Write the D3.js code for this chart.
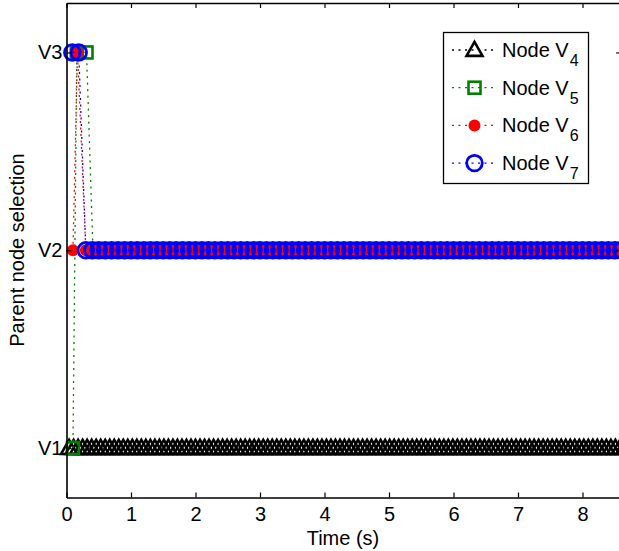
<!DOCTYPE html>
<html>
<head>
<meta charset="utf-8">
<script src="https://cdn.jsdelivr.net/npm/d3@7"></script>
<style>
  body { margin: 0; background: #fff; }
  svg { display: block; font-family: "Liberation Sans", Arial, sans-serif; }
</style>
</head>
<body>
<script>
// axis ticks and labels
const timeTicks = [0, 1, 2, 3, 4, 5, 6, 7, 8];
const levelTicks = [1, 2, 3];
const levelLabels = ["V1", "V2", "V3"];

// legend entries
const nodeNames = ["4", "5", "6", "7"];
const nodeColors = ["#000000", "#008000", "#ff0000", "#0000ff"];
const nodeMarkers = ["triangle", "square", "dot", "circle"];

// start-up samples [time (s), parent level]
const v4Transient = [];
const v5Transient = [[0.1, 1], [0.16, 3], [0.31, 3]];
const v6Transient = [[0.1, 2], [0.17, 3]];
const v7Transient = [[0.09, 3], [0.19, 3]];

// settled parent level after start-up: [first sample time, sample step, level]
const v4Settled = [0.04, 0.07, 1];
const v5Settled = [0.41, 0.1, 2];
const v6Settled = [0.3, 0.1, 2];
const v7Settled = [0.3, 0.1, 2];

const endTime = 8.7;

function buildSeries(transient, settled) {
    const pts = transient.map(d => ({t: d[0], v: d[1]}));
    d3.range(settled[0], endTime, settled[1]).forEach(t => pts.push({t: t, v: settled[2]}));
    return pts;
}

const series = [
    buildSeries(v4Transient, v4Settled),
    buildSeries(v5Transient, v5Settled),
    buildSeries(v6Transient, v6Settled),
    buildSeries(v7Transient, v7Settled)
];

const W = 619, H = 551;
const plotLeft = 66.5, plotTop = 3, plotRight = 621.2, plotBottom = 497.5;

const svg = d3.select("body").append("svg")
    .attr("width", W)
    .attr("height", H);

const x = d3.scaleLinear().domain([0, 8.6]).range([plotLeft, plotRight]);
const y = d3.scaleLinear().domain([0.75, 3.25]).range([plotBottom, plotTop]);

function drawMarker(g, type, color, cx, cy) {
    if (type === "triangle") {
        const w = 16, h = 14;
        g.append("path")
            .attr("d", `M${cx},${cy - h * 0.58}L${cx + w / 2},${cy + h * 0.42}L${cx - w / 2},${cy + h * 0.42}Z`)
            .attr("fill", "none").attr("stroke", color).attr("stroke-width", 2.6)
            .attr("stroke-linejoin", "miter");
    } else if (type === "square") {
        g.append("rect")
            .attr("x", cx - 6).attr("y", cy - 6)
            .attr("width", 12).attr("height", 12)
            .attr("fill", "none").attr("stroke", color).attr("stroke-width", 2.6);
    } else if (type === "dot") {
        g.append("circle").attr("cx", cx).attr("cy", cy).attr("r", 6).attr("fill", color);
    } else {
        g.append("circle").attr("cx", cx).attr("cy", cy).attr("r", 7.8)
            .attr("fill", "none").attr("stroke", color).attr("stroke-width", 2.8);
    }
}

const line = d3.line().x(d => x(d.t)).y(d => y(d.v));

series.forEach((pts, i) => {
    const g = svg.append("g");
    g.append("path")
        .datum(pts)
        .attr("d", line)
        .attr("fill", "none")
        .attr("stroke", nodeColors[i])
        .attr("stroke-width", 1.3)
        .attr("stroke-dasharray", "2,4.5");
    pts.forEach(d => drawMarker(g, nodeMarkers[i], nodeColors[i], x(d.t), y(d.v)));
});

// axes (MATLAB style: inward ticks on all four sides)
const axisFont = "20px";

const xAxis = svg.append("g")
    .attr("transform", `translate(0,${plotBottom})`)
    .call(d3.axisBottom(x).tickValues(timeTicks).tickSizeInner(-5).tickSizeOuter(0).tickPadding(9));
const xTop = svg.append("g")
    .attr("transform", `translate(0,${plotTop})`)
    .call(d3.axisTop(x).tickValues(timeTicks).tickSizeInner(-5).tickSizeOuter(0).tickFormat(""));
const yAxis = svg.append("g")
    .attr("transform", `translate(${plotLeft},0)`)
    .call(d3.axisLeft(y).tickValues(levelTicks).tickSizeInner(-5).tickSizeOuter(0).tickPadding(4)
        .tickFormat((d, i) => levelLabels[i]));
const yRight = svg.append("g")
    .attr("transform", `translate(${plotRight},0)`)
    .call(d3.axisRight(y).tickValues(levelTicks).tickSizeInner(-5).tickSizeOuter(0).tickFormat(""));

[xAxis, xTop, yAxis, yRight].forEach(a => {
    a.select(".domain").attr("stroke", "#000").attr("stroke-width", 1.6);
    a.selectAll(".tick line").attr("stroke", "#000").attr("stroke-width", 1.2);
    a.selectAll(".tick text")
        .attr("fill", "#000")
        .style("font-family", "'Liberation Sans', Arial, sans-serif")
        .style("font-size", axisFont);
});

svg.append("text")
    .attr("x", 343)
    .attr("y", 545)
    .attr("text-anchor", "middle")
    .style("font-size", axisFont)
    .text("Time (s)");

svg.append("text")
    .attr("transform", `translate(24,250) rotate(-90)`)
    .attr("text-anchor", "middle")
    .style("font-size", axisFont)
    .text("Parent node selection");

// legend
const legend = svg.append("g");
legend.append("rect")
    .attr("x", 443.5).attr("y", 32.5)
    .attr("width", 145).attr("height", 151)
    .attr("fill", "#fff").attr("stroke", "#000").attr("stroke-width", 1.3);

nodeNames.forEach((name, i) => {
    const cy = 50 + i * 37.7;
    legend.append("line")
        .attr("x1", 452).attr("x2", 497).attr("y1", cy).attr("y2", cy)
        .attr("stroke", nodeColors[i]).attr("stroke-width", 1.3)
        .attr("stroke-dasharray", "2,4.5");
    drawMarker(legend, nodeMarkers[i], nodeColors[i], 474.5, cy);
    const t = legend.append("text")
        .attr("x", 502).attr("y", cy + 7)
        .style("font-size", axisFont);
    t.append("tspan").text("Node V");
    t.append("tspan").attr("dx", 1).attr("dy", 9).style("font-size", "16px").text(name);
});
</script>
</body>
</html>
